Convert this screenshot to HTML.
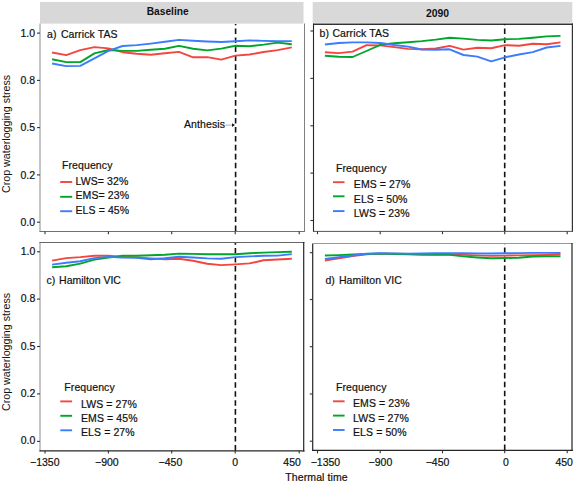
<!DOCTYPE html>
<html><head><meta charset="utf-8"><style>
html,body{margin:0;padding:0;background:#fff;}
svg{display:block;font-family:"Liberation Sans",sans-serif;}
text{stroke:#111;stroke-width:0.2px;letter-spacing:0.1px;}
text.ns{stroke:none;letter-spacing:0;}
text.tl{letter-spacing:0;}
</style></head><body>
<svg width="575" height="483" viewBox="0 0 575 483">
<rect x="0" y="0" width="575" height="483" fill="#fff"/><rect x="40" y="2" width="263.5" height="21.6" fill="#d8d8d8"/><rect x="312.7" y="2" width="259.6" height="20.8" fill="#d9d9d9"/><text x="167.7" y="14.9" font-size="10.2" text-anchor="middle" font-weight="bold" fill="#111" class="ns">Baseline</text>
<text x="437.6" y="16.6" font-size="10.4" text-anchor="middle" font-weight="bold" fill="#111" class="ns">2090</text>
<line x1="40" y1="23.5" x2="40" y2="231.5" stroke="#8c8c8c" stroke-width="1.0"/><line x1="304.5" y1="23.5" x2="304.5" y2="232" stroke="#808080" stroke-width="1.0"/><line x1="39.5" y1="231.5" x2="305" y2="231.5" stroke="#707070" stroke-width="1.0"/><line x1="313.5" y1="23.6" x2="313.5" y2="232" stroke="#262626" stroke-width="1.1"/><line x1="313" y1="24.2" x2="573" y2="24.2" stroke="#333" stroke-width="1.5"/><line x1="572.4" y1="23.6" x2="572.4" y2="232" stroke="#333" stroke-width="1.2"/><line x1="313" y1="231.4" x2="573" y2="231.4" stroke="#555" stroke-width="1.0"/><line x1="40" y1="242" x2="40" y2="451.5" stroke="#8c8c8c" stroke-width="1.0"/><line x1="39.5" y1="242.5" x2="304.5" y2="242.5" stroke="#666" stroke-width="1.0"/><line x1="303.7" y1="242" x2="303.7" y2="451.5" stroke="#262626" stroke-width="1.2"/><line x1="39.5" y1="450.8" x2="304.5" y2="450.8" stroke="#262626" stroke-width="1.2"/><line x1="312.7" y1="243" x2="312.7" y2="451" stroke="#262626" stroke-width="1.2"/><line x1="312" y1="243.5" x2="573" y2="243.5" stroke="#999" stroke-width="1.0"/><line x1="572" y1="243" x2="572" y2="451" stroke="#333" stroke-width="1.3"/><line x1="312" y1="450.4" x2="573" y2="450.4" stroke="#262626" stroke-width="1.2"/><line x1="235.6" y1="231" x2="235.6" y2="24" stroke="#111" stroke-width="1.6" stroke-dasharray="5.6 3.35"/><line x1="504.7" y1="231" x2="504.7" y2="24.5" stroke="#111" stroke-width="1.6" stroke-dasharray="5.6 3.35"/><line x1="235.4" y1="450.5" x2="235.4" y2="243" stroke="#111" stroke-width="1.6" stroke-dasharray="5.6 3.35"/><line x1="504.7" y1="450" x2="504.7" y2="244" stroke="#111" stroke-width="1.6" stroke-dasharray="5.6 3.35"/><polyline points="52.1,52.5 66.2,55.1 80.3,50.1 94.4,47.1 108.5,48.4 122.6,52.2 136.7,53.8 150.8,54.8 164.9,53.3 179.0,51.9 193.1,57.3 207.2,57.1 221.3,59.6 235.4,55.6 249.5,54.5 263.6,52.0 277.7,50.1 291.8,47.4" fill="none" stroke="#f3463f" stroke-width="1.9" stroke-linejoin="round"/>
<polyline points="52.1,59.3 66.2,62.1 80.3,62.1 94.4,53.4 108.5,50.0 122.6,50.9 136.7,50.9 150.8,49.8 164.9,48.7 179.0,45.9 193.1,48.8 207.2,50.4 221.3,48.6 235.4,45.7 249.5,46.2 263.6,44.6 277.7,42.6 291.8,44.3" fill="none" stroke="#00a62a" stroke-width="1.9" stroke-linejoin="round"/>
<polyline points="52.1,63.5 66.2,66.1 80.3,65.9 94.4,58.3 108.5,50.8 122.6,46.0 136.7,45.1 150.8,43.6 164.9,41.8 179.0,39.9 193.1,40.8 207.2,41.5 221.3,42.0 235.4,41.3 249.5,40.4 263.6,40.9 277.7,41.2 291.8,41.1" fill="none" stroke="#3b7cff" stroke-width="1.9" stroke-linejoin="round"/>
<polyline points="324.9,52.3 338.8,53.1 352.6,51.6 366.5,45.1 380.3,45.4 394.2,47.1 408.1,48.9 421.9,49.2 435.8,48.5 449.6,45.9 463.5,49.6 477.4,47.7 491.2,48.3 505.1,45.1 518.9,45.7 532.8,43.8 546.7,44.2 560.5,42.4" fill="none" stroke="#f3463f" stroke-width="1.9" stroke-linejoin="round"/>
<polyline points="324.9,55.7 338.8,56.8 352.6,57.0 366.5,51.0 380.3,44.8 394.2,43.2 408.1,42.2 421.9,41.1 435.8,39.6 449.6,37.8 463.5,38.6 477.4,39.9 491.2,40.5 505.1,39.2 518.9,38.9 532.8,37.8 546.7,36.4 560.5,35.9" fill="none" stroke="#00a62a" stroke-width="1.9" stroke-linejoin="round"/>
<polyline points="324.9,44.5 338.8,43.0 352.6,42.4 366.5,42.4 380.3,43.0 394.2,45.0 408.1,46.6 421.9,49.5 435.8,49.8 449.6,49.3 463.5,55.0 477.4,56.6 491.2,61.3 505.1,57.3 518.9,54.5 532.8,52.1 546.7,47.5 560.5,45.9" fill="none" stroke="#3b7cff" stroke-width="1.9" stroke-linejoin="round"/>
<polyline points="52.1,260.6 66.2,258.1 80.3,257.1 94.4,255.7 108.5,255.6 122.6,256.9 136.7,257.4 150.8,258.4 164.9,259.3 179.0,258.8 193.1,260.7 207.2,263.8 221.3,265.1 235.4,264.4 249.5,263.4 263.6,260.3 277.7,259.5 291.8,258.7" fill="none" stroke="#f3463f" stroke-width="1.9" stroke-linejoin="round"/>
<polyline points="52.1,267.2 66.2,266.2 80.3,263.6 94.4,259.6 108.5,257.6 122.6,255.8 136.7,255.8 150.8,255.3 164.9,254.7 179.0,253.6 193.1,253.9 207.2,254.2 221.3,254.2 235.4,254.3 249.5,253.2 263.6,252.6 277.7,252.1 291.8,251.7" fill="none" stroke="#00a62a" stroke-width="1.9" stroke-linejoin="round"/>
<polyline points="52.1,264.6 66.2,262.7 80.3,261.3 94.4,258.1 108.5,256.9 122.6,257.6 136.7,257.9 150.8,259.3 164.9,258.2 179.0,256.7 193.1,257.5 207.2,258.4 221.3,258.8 235.4,257.1 249.5,256.4 263.6,255.8 277.7,255.6 291.8,254.1" fill="none" stroke="#3b7cff" stroke-width="1.9" stroke-linejoin="round"/>
<polyline points="324.9,260.5 338.8,258.4 352.6,256.0 366.5,254.2 380.3,253.6 394.2,253.8 408.1,253.9 421.9,254.0 435.8,254.3 449.6,254.4 463.5,254.9 477.4,255.4 491.2,255.9 505.1,255.6 518.9,255.4 532.8,255.2 546.7,254.9 560.5,254.6" fill="none" stroke="#f3463f" stroke-width="1.9" stroke-linejoin="round"/>
<polyline points="324.9,255.5 338.8,255.1 352.6,254.5 366.5,254.0 380.3,253.6 394.2,254.0 408.1,254.3 421.9,254.7 435.8,254.9 449.6,254.9 463.5,256.4 477.4,257.5 491.2,258.3 505.1,258.0 518.9,257.7 532.8,256.5 546.7,256.3 560.5,256.4" fill="none" stroke="#00a62a" stroke-width="1.9" stroke-linejoin="round"/>
<polyline points="324.9,259.0 338.8,257.2 352.6,255.5 366.5,253.7 380.3,253.2 394.2,253.4 408.1,253.6 421.9,253.5 435.8,253.3 449.6,253.3 463.5,253.3 477.4,253.4 491.2,253.5 505.1,253.3 518.9,253.1 532.8,252.9 546.7,252.9 560.5,253.0" fill="none" stroke="#3b7cff" stroke-width="1.9" stroke-linejoin="round"/>
<line x1="37" y1="33.1" x2="40" y2="33.1" stroke="#333" stroke-width="1.1"/><line x1="37" y1="80.4" x2="40" y2="80.4" stroke="#333" stroke-width="1.1"/><line x1="37" y1="127.6" x2="40" y2="127.6" stroke="#333" stroke-width="1.1"/><line x1="37" y1="174.9" x2="40" y2="174.9" stroke="#333" stroke-width="1.1"/><line x1="37" y1="222.2" x2="40" y2="222.2" stroke="#333" stroke-width="1.1"/><line x1="37" y1="251.8" x2="40" y2="251.8" stroke="#333" stroke-width="1.1"/><line x1="37" y1="299.1" x2="40" y2="299.1" stroke="#333" stroke-width="1.1"/><line x1="37" y1="346.5" x2="40" y2="346.5" stroke="#333" stroke-width="1.1"/><line x1="37" y1="393.9" x2="40" y2="393.9" stroke="#333" stroke-width="1.1"/><line x1="37" y1="441.4" x2="40" y2="441.4" stroke="#333" stroke-width="1.1"/><line x1="310.4" y1="31.0" x2="313.4" y2="31.0" stroke="#333" stroke-width="1.1"/><line x1="310.4" y1="78.4" x2="313.4" y2="78.4" stroke="#333" stroke-width="1.1"/><line x1="310.4" y1="125.8" x2="313.4" y2="125.8" stroke="#333" stroke-width="1.1"/><line x1="310.4" y1="173.1" x2="313.4" y2="173.1" stroke="#333" stroke-width="1.1"/><line x1="310.4" y1="220.5" x2="313.4" y2="220.5" stroke="#333" stroke-width="1.1"/><line x1="309.8" y1="252.7" x2="312.7" y2="252.7" stroke="#333" stroke-width="1.1"/><line x1="309.8" y1="299.5" x2="312.7" y2="299.5" stroke="#333" stroke-width="1.1"/><line x1="309.8" y1="346.7" x2="312.7" y2="346.7" stroke="#333" stroke-width="1.1"/><line x1="309.8" y1="394.0" x2="312.7" y2="394.0" stroke="#333" stroke-width="1.1"/><line x1="309.8" y1="441.2" x2="312.7" y2="441.2" stroke="#333" stroke-width="1.1"/><text x="35.1" y="36.9" font-size="10.5" text-anchor="end" font-weight="normal" fill="#111" class="tl">1.0</text>
<text x="35.1" y="84.2" font-size="10.5" text-anchor="end" font-weight="normal" fill="#111" class="tl">0.8</text>
<text x="35.1" y="131.4" font-size="10.5" text-anchor="end" font-weight="normal" fill="#111" class="tl">0.5</text>
<text x="35.1" y="178.70000000000002" font-size="10.5" text-anchor="end" font-weight="normal" fill="#111" class="tl">0.2</text>
<text x="35.1" y="226.0" font-size="10.5" text-anchor="end" font-weight="normal" fill="#111" class="tl">0.0</text>
<text x="35.4" y="254.8" font-size="10.5" text-anchor="end" font-weight="normal" fill="#111" class="tl">1.0</text>
<text x="35.4" y="301.90000000000003" font-size="10.5" text-anchor="end" font-weight="normal" fill="#111" class="tl">0.8</text>
<text x="35.4" y="349.5" font-size="10.5" text-anchor="end" font-weight="normal" fill="#111" class="tl">0.5</text>
<text x="35.4" y="396.9" font-size="10.5" text-anchor="end" font-weight="normal" fill="#111" class="tl">0.2</text>
<text x="35.4" y="444.0" font-size="10.5" text-anchor="end" font-weight="normal" fill="#111" class="tl">0.0</text>
<line x1="45.0" y1="231.4" x2="45.0" y2="234.2" stroke="#333" stroke-width="1.1"/><line x1="45.0" y1="450.8" x2="45.0" y2="453.5" stroke="#333" stroke-width="1.1"/><line x1="108.4" y1="231.4" x2="108.4" y2="234.2" stroke="#333" stroke-width="1.1"/><line x1="108.4" y1="450.8" x2="108.4" y2="453.5" stroke="#333" stroke-width="1.1"/><line x1="171.7" y1="231.4" x2="171.7" y2="234.2" stroke="#333" stroke-width="1.1"/><line x1="171.7" y1="450.8" x2="171.7" y2="453.5" stroke="#333" stroke-width="1.1"/><line x1="235.2" y1="231.4" x2="235.2" y2="234.2" stroke="#333" stroke-width="1.1"/><line x1="235.2" y1="450.8" x2="235.2" y2="453.5" stroke="#333" stroke-width="1.1"/><line x1="299.2" y1="231.4" x2="299.2" y2="234.2" stroke="#333" stroke-width="1.1"/><line x1="299.2" y1="450.8" x2="299.2" y2="453.5" stroke="#333" stroke-width="1.1"/><line x1="317.5" y1="231.4" x2="317.5" y2="234.2" stroke="#333" stroke-width="1.1"/><line x1="317.5" y1="450.3" x2="317.5" y2="453.3" stroke="#333" stroke-width="1.1"/><line x1="380.2" y1="231.4" x2="380.2" y2="234.2" stroke="#333" stroke-width="1.1"/><line x1="380.2" y1="450.3" x2="380.2" y2="453.3" stroke="#333" stroke-width="1.1"/><line x1="442.5" y1="231.4" x2="442.5" y2="234.2" stroke="#333" stroke-width="1.1"/><line x1="442.5" y1="450.3" x2="442.5" y2="453.3" stroke="#333" stroke-width="1.1"/><line x1="504.7" y1="231.4" x2="504.7" y2="234.2" stroke="#333" stroke-width="1.1"/><line x1="504.7" y1="450.3" x2="504.7" y2="453.3" stroke="#333" stroke-width="1.1"/><line x1="567.2" y1="231.4" x2="567.2" y2="234.2" stroke="#333" stroke-width="1.1"/><line x1="567.2" y1="450.3" x2="567.2" y2="453.3" stroke="#333" stroke-width="1.1"/><text x="30.0" y="466.2" font-size="10.5" text-anchor="start" font-weight="normal" fill="#111" class="tl">−1350</text>
<text x="95.0" y="466.2" font-size="10.5" text-anchor="start" font-weight="normal" fill="#111" class="tl">−900</text>
<text x="158.6" y="466.2" font-size="10.5" text-anchor="start" font-weight="normal" fill="#111" class="tl">−450</text>
<text x="232.2" y="466.2" font-size="10.5" text-anchor="start" font-weight="normal" fill="#111" class="tl">0</text>
<text x="283.3" y="466.2" font-size="10.5" text-anchor="start" font-weight="normal" fill="#111" class="tl">450</text>
<text x="310.7" y="465.6" font-size="10.5" text-anchor="start" font-weight="normal" fill="#111" class="tl">−1350</text>
<text x="368.6" y="465.6" font-size="10.5" text-anchor="start" font-weight="normal" fill="#111" class="tl">−900</text>
<text x="425.7" y="465.6" font-size="10.5" text-anchor="start" font-weight="normal" fill="#111" class="tl">−450</text>
<text x="503.0" y="465.6" font-size="10.5" text-anchor="start" font-weight="normal" fill="#111" class="tl">0</text>
<text x="555.4" y="465.6" font-size="10.5" text-anchor="start" font-weight="normal" fill="#111" class="tl">450</text>
<text x="285.3" y="481.2" font-size="10.5" text-anchor="start" font-weight="normal" fill="#111" >Thermal time</text>
<text x="0" y="0" font-size="10.7" text-anchor="middle" font-weight="normal" fill="#111" class="ns" transform="translate(10.3,133.9) rotate(-90)">Crop waterlogging stress</text>
<text x="0" y="0" font-size="10.7" text-anchor="middle" font-weight="normal" fill="#111" class="ns" transform="translate(10.3,351.9) rotate(-90)">Crop waterlogging stress</text>
<text x="47" y="38.0" font-size="10.5" text-anchor="start" font-weight="normal" fill="#111" >a)</text>
<text x="60.9" y="38.0" font-size="10.5" text-anchor="start" font-weight="normal" fill="#111" >Carrick TAS</text>
<text x="319.6" y="37.3" font-size="10.5" text-anchor="start" font-weight="normal" fill="#111" >b)</text>
<text x="332.4" y="37.3" font-size="10.5" text-anchor="start" font-weight="normal" fill="#111" >Carrick TAS</text>
<text x="46.5" y="284.3" font-size="10.5" text-anchor="start" font-weight="normal" fill="#111" >c)</text>
<text x="59.1" y="284.3" font-size="10.5" text-anchor="start" font-weight="normal" fill="#111" style="letter-spacing:0">Hamilton VIC</text>
<text x="325.4" y="284.2" font-size="10.5" text-anchor="start" font-weight="normal" fill="#111" >d)</text>
<text x="338.9" y="284.2" font-size="10.5" text-anchor="start" font-weight="normal" fill="#111" >Hamilton VIC</text>
<text x="184" y="127.7" font-size="10.5" text-anchor="start" font-weight="normal" fill="#111" >Anthesis</text>
<line x1="225.4" y1="125.1" x2="232.5" y2="125.1" stroke="#b0b0b0" stroke-width="1"/><path d="M232,123.3 L235,125.1 L232,126.9 Z" fill="#1a1a1a"/><text x="62" y="169.1" font-size="10.5" text-anchor="start" font-weight="normal" fill="#111" >Frequency</text>
<line x1="60.2" y1="182.0" x2="72.2" y2="182.0" stroke="#f3463f" stroke-width="1.9"/>
<text x="75.5" y="184.8" font-size="10.5" text-anchor="start" font-weight="normal" fill="#111" >LWS= 32%</text>
<line x1="60.2" y1="196.8" x2="72.2" y2="196.8" stroke="#00a62a" stroke-width="1.9"/>
<text x="75.5" y="199.4" font-size="10.5" text-anchor="start" font-weight="normal" fill="#111" >EMS= 23%</text>
<line x1="60.2" y1="211.2" x2="72.2" y2="211.2" stroke="#3b7cff" stroke-width="1.9"/>
<text x="75.5" y="213.7" font-size="10.5" text-anchor="start" font-weight="normal" fill="#111" >ELS = 45%</text>
<text x="336" y="171.7" font-size="10.5" text-anchor="start" font-weight="normal" fill="#111" >Frequency</text>
<line x1="333" y1="182.2" x2="344.5" y2="182.2" stroke="#f3463f" stroke-width="1.9"/>
<text x="353.8" y="188.4" font-size="10.5" text-anchor="start" font-weight="normal" fill="#111" >EMS = 27%</text>
<line x1="333" y1="196.3" x2="344.5" y2="196.3" stroke="#00a62a" stroke-width="1.9"/>
<text x="353.8" y="202.8" font-size="10.5" text-anchor="start" font-weight="normal" fill="#111" >ELS = 50%</text>
<line x1="333" y1="211.1" x2="344.5" y2="211.1" stroke="#3b7cff" stroke-width="1.9"/>
<text x="353.8" y="217.4" font-size="10.5" text-anchor="start" font-weight="normal" fill="#111" >LWS = 23%</text>
<text x="64.3" y="390.9" font-size="10.5" text-anchor="start" font-weight="normal" fill="#111" >Frequency</text>
<line x1="60.3" y1="401.4" x2="72.1" y2="401.4" stroke="#f3463f" stroke-width="1.9"/>
<text x="81" y="407.7" font-size="10.5" text-anchor="start" font-weight="normal" fill="#111" >LWS = 27%</text>
<line x1="60.3" y1="415.8" x2="72.1" y2="415.8" stroke="#00a62a" stroke-width="1.9"/>
<text x="81" y="421.7" font-size="10.5" text-anchor="start" font-weight="normal" fill="#111" >EMS = 45%</text>
<line x1="60.3" y1="430.3" x2="72.1" y2="430.3" stroke="#3b7cff" stroke-width="1.9"/>
<text x="81" y="436.3" font-size="10.5" text-anchor="start" font-weight="normal" fill="#111" >ELS = 27%</text>
<text x="336" y="390.9" font-size="10.5" text-anchor="start" font-weight="normal" fill="#111" >Frequency</text>
<line x1="333" y1="401.3" x2="344.6" y2="401.3" stroke="#f3463f" stroke-width="1.9"/>
<text x="353" y="407.4" font-size="10.5" text-anchor="start" font-weight="normal" fill="#111" >EMS = 23%</text>
<line x1="333" y1="415.6" x2="344.6" y2="415.6" stroke="#00a62a" stroke-width="1.9"/>
<text x="353" y="421.8" font-size="10.5" text-anchor="start" font-weight="normal" fill="#111" >LWS = 27%</text>
<line x1="333" y1="430.0" x2="344.6" y2="430.0" stroke="#3b7cff" stroke-width="1.9"/>
<text x="353" y="436.1" font-size="10.5" text-anchor="start" font-weight="normal" fill="#111" >ELS = 50%</text>

</svg>
</body></html>
